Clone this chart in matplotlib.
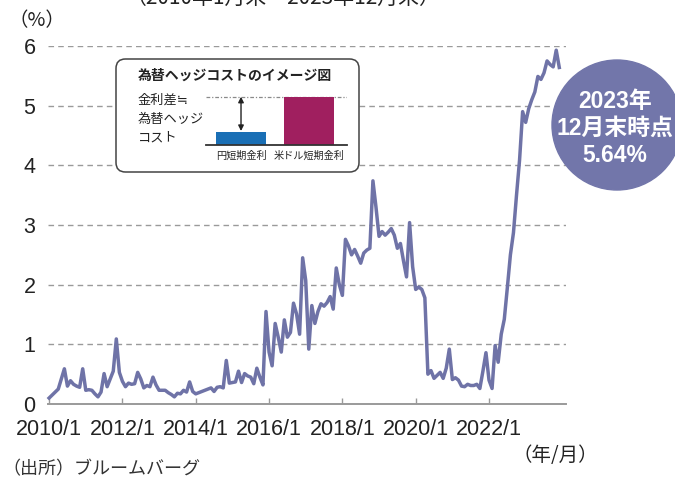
import matplotlib
matplotlib.use("Agg")
import matplotlib.pyplot as plt
from matplotlib.patches import Ellipse, FancyBboxPatch
import numpy as np

# ---- data ----
start_year = 2010
rate_values = [
    0.10, 0.15, 0.20, 0.25, 0.42, 0.59, 0.30, 0.39, 0.33, 0.30, 0.28, 0.59,
    0.23, 0.24, 0.23, 0.17, 0.12, 0.20, 0.51, 0.29, 0.42, 0.55, 1.09, 0.53,
    0.38, 0.29, 0.35, 0.33, 0.34, 0.53, 0.42, 0.27, 0.31, 0.29, 0.45, 0.32,
    0.23, 0.23, 0.23, 0.19, 0.16, 0.12, 0.18, 0.17, 0.23, 0.20, 0.37, 0.21,
    0.17, 0.19, 0.21, 0.23, 0.25, 0.27, 0.21, 0.28, 0.29, 0.27, 0.73, 0.35,
    0.36, 0.37, 0.55, 0.36, 0.51, 0.47, 0.45, 0.34, 0.60, 0.45, 0.32, 1.55,
    0.87, 0.64, 1.35, 1.12, 0.87, 1.41, 1.12, 1.20, 1.69, 1.51, 1.17, 2.45,
    2.07, 0.92, 1.65, 1.35, 1.55, 1.68, 1.64, 1.70, 1.80, 1.59, 2.28, 2.00,
    1.82, 2.76, 2.65, 2.50, 2.59, 2.48, 2.36, 2.53, 2.58, 2.61, 3.74, 3.30,
    2.81, 2.89, 2.83, 2.88, 2.94, 2.83, 2.61, 2.69, 2.40, 2.13, 3.04, 2.30,
    1.92, 1.96, 1.92, 1.78, 0.50, 0.56, 0.43, 0.48, 0.53, 0.43, 0.60, 0.92,
    0.41, 0.44, 0.40, 0.30, 0.29, 0.33, 0.31, 0.31, 0.33, 0.26, 0.55, 0.86,
    0.40, 0.26, 0.98, 0.70, 1.17, 1.42, 1.95, 2.50, 2.87, 3.50, 4.09, 4.90,
    4.72, 4.95, 5.10, 5.23, 5.49, 5.44, 5.55, 5.75, 5.69, 5.65, 5.93, 5.64,
]
tick_years = [2010, 2012, 2014, 2016, 2018, 2020, 2022]
tick_labels = ["2010/1", "2012/1", "2014/1", "2016/1", "2018/1", "2020/1", "2022/1"]
y_ticks = [0, 1, 2, 3, 4, 5, 6]

inset_categories = ["円短期金利", "米ドル短期金利"]
inset_values = [0.53, 1.93]
inset_colors = ["#1a6fb5", "#a01f5f"]

title_text = "（2010年1月末～2023年12月末）"
badge_lines = ["2023年", "12月末時点", "5.64%"]

LINE_C = "#6f73a7"
TXT = "#222222"
FONT = ["Liberation Sans", "Noto Sans CJK JP", "DejaVu Sans"]
JFONT = ["Noto Sans CJK JP", "DejaVu Sans", "Liberation Sans"]
plt.rcParams["font.family"] = FONT

W, H = 675, 479
fig = plt.figure(figsize=(W / 100, H / 100), dpi=100)


def fx(px):
    return px / W


def fy(py):
    return 1 - py / H


# main axes
x0, x1 = 48, 566
ytop, ybot = 46, 404
ax = fig.add_axes([fx(x0), fy(ybot), fx(x1) - fx(x0), fy(ytop) - fy(ybot)])
x_vals = np.array([start_year + i / 12 for i in range(len(rate_values))])
ax.set_xlim(2009.97, 2024.1)
ax.set_ylim(0, 6)
for v in y_ticks[1:]:
    ax.axhline(v, color="#9a9a9a", lw=1.0, ls=(0, (4, 3)), zorder=1)
ax.plot(x_vals, rate_values, color=LINE_C, lw=2.5, solid_joinstyle="round",
        zorder=3, clip_on=False)

for s in ["left", "right", "top"]:
    ax.spines[s].set_visible(False)
ax.spines["bottom"].set_color("#9a9a9a")
ax.spines["bottom"].set_linewidth(1.4)
ax.set_xticks(tick_years)
ax.set_xticklabels(tick_labels)
ax.tick_params(axis="x", direction="in", length=4, width=1, color="#9a9a9a",
               labelsize=15.5, labelcolor=TXT, pad=11)
ax.set_yticks(y_ticks)
ax.set_yticklabels([str(v) for v in y_ticks])
ax.tick_params(axis="y", length=0, labelsize=15.5, labelcolor=TXT, pad=9)
ax.patch.set_alpha(0)

# texts
fig.text(fx(8), fy(21), "（%）", fontsize=14, color=TXT, family=JFONT,
         ha="left", va="center")
fig.text(fx(283), fy(-2), title_text, fontsize=15, color=TXT, family=JFONT,
         ha="center", va="center")
fig.text(fx(598), fy(455), "（年/月）", fontsize=14, color=TXT, family=JFONT,
         ha="right", va="center")
fig.text(fx(2), fy(469), "（出所）ブルームバーグ", fontsize=13, color="#333333",
         family=JFONT, ha="left", va="center")

# badge circle
cx, cy, r = 617, 125, 65
fig.add_artist(Ellipse((fx(cx), fy(cy)), 2 * r / W, 2 * r / H,
                       transform=fig.transFigure, color="#7276aa", zorder=5))
for line, py in zip(badge_lines, [101, 128, 155]):
    fig.text(fx(615), fy(py), line, fontsize=16.5, color="white", weight="bold",
             family=FONT, ha="center", va="center", zorder=6)

# inset box
bx0, by0, bx1, by1 = 116, 59, 359, 172
box = FancyBboxPatch((fx(bx0), fy(by1)), fx(bx1) - fx(bx0), fy(by0) - fy(by1),
                     boxstyle="round,pad=0,rounding_size=0.014",
                     transform=fig.transFigure, facecolor="white",
                     edgecolor="#444444", lw=1.1, zorder=4,
                     mutation_aspect=W / H)
fig.add_artist(box)
fig.text(fx(138), fy(76), "為替ヘッジコストのイメージ図", fontsize=10,
         weight="bold", color=TXT, family=JFONT, ha="left", va="center", zorder=6)
for line, py in zip(["金利差≒", "為替ヘッジ", "コスト"], [100, 119, 138]):
    fig.text(fx(138), fy(py), line, fontsize=9.5, color=TXT, family=JFONT,
             ha="left", va="center", zorder=6)

iax = fig.add_axes([fx(206), fy(145), fx(347) - fx(206), fy(90) - fy(145)],
                   zorder=6)
iax.patch.set_alpha(0)
ipos = np.arange(len(inset_categories))
iax.bar(ipos, inset_values, width=0.735, color=inset_colors, zorder=2)
iax.set_xlim(-0.515, 1.559)
iax.set_ylim(0, 2.2)
iax.axhline(inset_values[1], color="#8a8a8a", lw=0.9, ls=(0, (3, 1.5, 1, 1.5)),
            zorder=1)
iax.annotate("", xy=(0, inset_values[0] + 0.03), xytext=(0, inset_values[1]),
             arrowprops=dict(arrowstyle="<|-|>", color="#222222", lw=1.0,
                             mutation_scale=8, shrinkA=0, shrinkB=0))
for s in ["left", "right", "top"]:
    iax.spines[s].set_visible(False)
iax.spines["bottom"].set_color("#333333")
iax.spines["bottom"].set_linewidth(1.3)
iax.set_yticks([])
iax.set_xticks(ipos)
iax.set_xticklabels(inset_categories, family=JFONT)
iax.tick_params(axis="x", length=0, labelsize=7.3, labelcolor=TXT, pad=4)

fig.savefig("out.png", dpi=100)
